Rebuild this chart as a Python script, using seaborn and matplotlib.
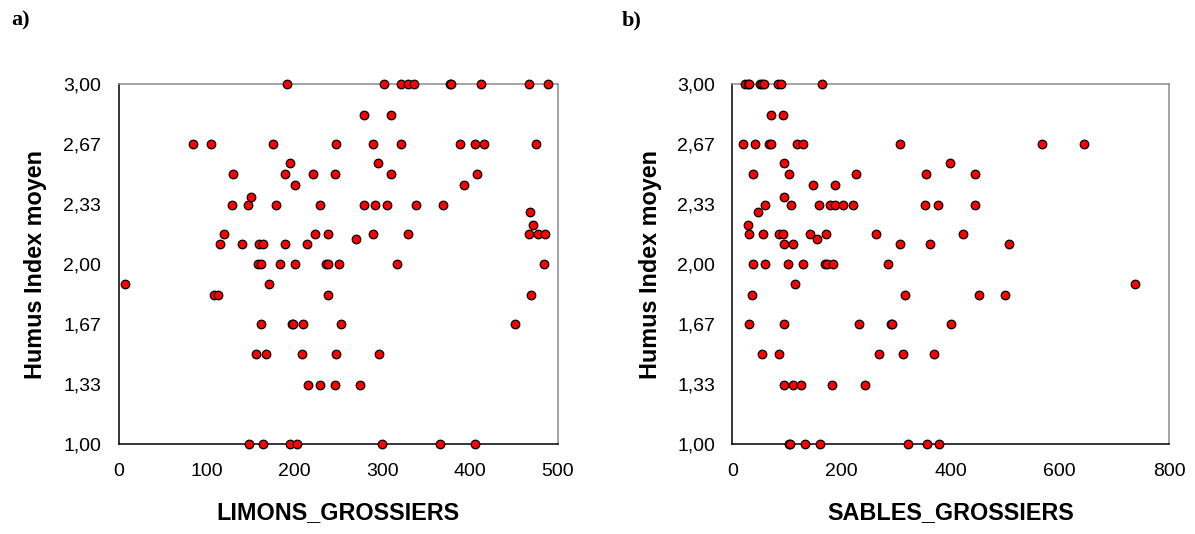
import numpy as np
import pandas as pd
import matplotlib
matplotlib.use("Agg")
import matplotlib.pyplot as plt
import seaborn as sns

# Panel a) : coarse silt content vs mean humus index
limons_x = [85, 105, 192, 176, 195, 190, 221, 201, 130, 129, 147, 151, 179, 229,
            120, 116, 141, 160, 164, 190, 215, 224, 159, 162, 184, 201,
            302, 322, 330, 336, 377, 379, 413, 467, 489, 280, 310,
            248, 290, 322, 389, 406, 416, 475, 295, 246, 310, 408, 393,
            280, 292, 306, 339, 369, 469, 472, 238, 290, 330, 467, 477, 485,
            270, 236, 239, 251, 317, 484, 7, 109, 113, 171, 239, 470,
            162, 197, 199, 210, 253, 451, 156, 168, 209, 248, 297,
            216, 229, 246, 275, 148, 164, 195, 203, 300, 366, 406]
limons_y = [2.67, 2.67, 3.00, 2.67, 2.56, 2.50, 2.50, 2.44, 2.50, 2.33, 2.33, 2.375, 2.33, 2.33,
            2.17, 2.11, 2.11, 2.11, 2.11, 2.11, 2.11, 2.17, 2.00, 2.00, 2.00, 2.00,
            3.00, 3.00, 3.00, 3.00, 3.00, 3.00, 3.00, 3.00, 3.00, 2.83, 2.83,
            2.67, 2.67, 2.67, 2.67, 2.67, 2.67, 2.67, 2.56, 2.50, 2.50, 2.50, 2.44,
            2.33, 2.33, 2.33, 2.33, 2.33, 2.29, 2.22, 2.17, 2.17, 2.17, 2.17, 2.17, 2.17,
            2.14, 2.00, 2.00, 2.00, 2.00, 2.00, 1.89, 1.83, 1.83, 1.89, 1.83, 1.83,
            1.67, 1.67, 1.67, 1.67, 1.67, 1.67, 1.50, 1.50, 1.50, 1.50, 1.50,
            1.33, 1.33, 1.33, 1.33, 1.00, 1.00, 1.00, 1.00, 1.00, 1.00, 1.00]

# Panel b) : coarse sand content vs mean humus index
sables_x = [24, 28, 31, 50, 54, 58, 84, 89, 164, 70, 92,
            19, 41, 68, 71, 118, 130, 308, 567, 644, 95, 399,
            38, 103, 227, 355, 444, 148, 188, 95,
            60, 108, 158, 179, 188, 202, 222, 353, 377, 444, 47, 28,
            31, 57, 86, 92, 142, 172, 263, 423, 155,
            95, 111, 308, 363, 507, 38, 60, 102, 129, 170, 174, 185, 286,
            114, 737, 36, 316, 452, 500, 31, 94, 233, 291, 293, 401,
            54, 86, 268, 313, 369, 94, 111, 126, 183, 243,
            103, 105, 134, 161, 322, 356, 379]
sables_y = [3.00, 3.00, 3.00, 3.00, 3.00, 3.00, 3.00, 3.00, 3.00, 2.83, 2.83,
            2.67, 2.67, 2.67, 2.67, 2.67, 2.67, 2.67, 2.67, 2.67, 2.56, 2.56,
            2.50, 2.50, 2.50, 2.50, 2.50, 2.44, 2.44, 2.375,
            2.33, 2.33, 2.33, 2.33, 2.33, 2.33, 2.33, 2.33, 2.33, 2.33, 2.29, 2.22,
            2.17, 2.17, 2.17, 2.17, 2.17, 2.17, 2.17, 2.17, 2.14,
            2.11, 2.11, 2.11, 2.11, 2.11, 2.00, 2.00, 2.00, 2.00, 2.00, 2.00, 2.00, 2.00,
            1.89, 1.89, 1.83, 1.83, 1.83, 1.83, 1.67, 1.67, 1.67, 1.67, 1.67, 1.67,
            1.50, 1.50, 1.50, 1.50, 1.50, 1.33, 1.33, 1.33, 1.33, 1.33,
            1.00, 1.00, 1.00, 1.00, 1.00, 1.00, 1.00]

y_ticks = [1.0, 4 / 3, 5 / 3, 2.0, 7 / 3, 8 / 3, 3.0]
y_ticklabels = ["1,00", "1,33", "1,67", "2,00", "2,33", "2,67", "3,00"]
limons_ticks = [0, 100, 200, 300, 400, 500]
sables_ticks = [0, 200, 400, 600, 800]

sns.set_style("white")
plt.rcParams["font.family"] = ["Liberation Sans", "DejaVu Sans"]
plt.rcParams["text.color"] = "black"
plt.rcParams["axes.labelcolor"] = "black"
plt.rcParams["xtick.color"] = "black"
plt.rcParams["ytick.color"] = "black"

fig = plt.figure(figsize=(11.95, 5.34), dpi=100)
ax_a = fig.add_axes([0.0992, 0.1685, 0.3675, 0.6736])
ax_b = fig.add_axes([0.6128, 0.1685, 0.3654, 0.6736])

df_a = pd.DataFrame({"LIMONS_GROSSIERS": limons_x, "Humus Index moyen": limons_y})
df_b = pd.DataFrame({"SABLES_GROSSIERS": sables_x, "Humus Index moyen": sables_y})

panels = [
    (ax_a, df_a, "LIMONS_GROSSIERS", limons_ticks, (0, 500), "a)", 0.009),
    (ax_b, df_b, "SABLES_GROSSIERS", sables_ticks, (0, 800), "b)", 0.520),
]

for ax, df, xcol, xticks, xlim, tag, tag_x in panels:
    sns.scatterplot(data=df, x=xcol, y="Humus Index moyen", ax=ax,
                    color="#ff0000", edgecolor="black", linewidth=0.9,
                    s=38, zorder=3, clip_on=False)
    ax.set_xlim(*xlim)
    ax.set_ylim(1.0, 3.0)
    ax.set_xticks(xticks)
    ax.set_xticklabels([str(t) for t in xticks])
    ax.set_yticks(y_ticks)
    ax.set_yticklabels(y_ticklabels)
    ax.tick_params(axis="both", direction="inout", length=9, width=1.0,
                   color="black", labelcolor="black", labelsize=14)
    ax.tick_params(axis="y", pad=8)
    ax.tick_params(axis="x", pad=9)
    for side in ("left", "bottom"):
        ax.spines[side].set_color("black")
        ax.spines[side].set_linewidth(1.1)
    for side in ("top", "right"):
        ax.spines[side].set_color("#8c8c8c")
        ax.spines[side].set_linewidth(1.1)
    ax.set_xlabel(xcol, fontsize=16.8, fontweight="bold", va="center")
    ax.xaxis.set_label_coords(0.5, -0.19)
    ax.set_ylabel("Humus Index moyen", fontsize=16.8, fontweight="bold", va="center")
    ax.yaxis.set_label_coords(-0.188, 0.5)
    fig.text(tag_x, 0.962, tag, fontsize=16, fontweight="bold",
             family=["Liberation Serif", "DejaVu Serif"], va="center", ha="left")

fig.savefig("out.png", dpi=100, facecolor="white")
